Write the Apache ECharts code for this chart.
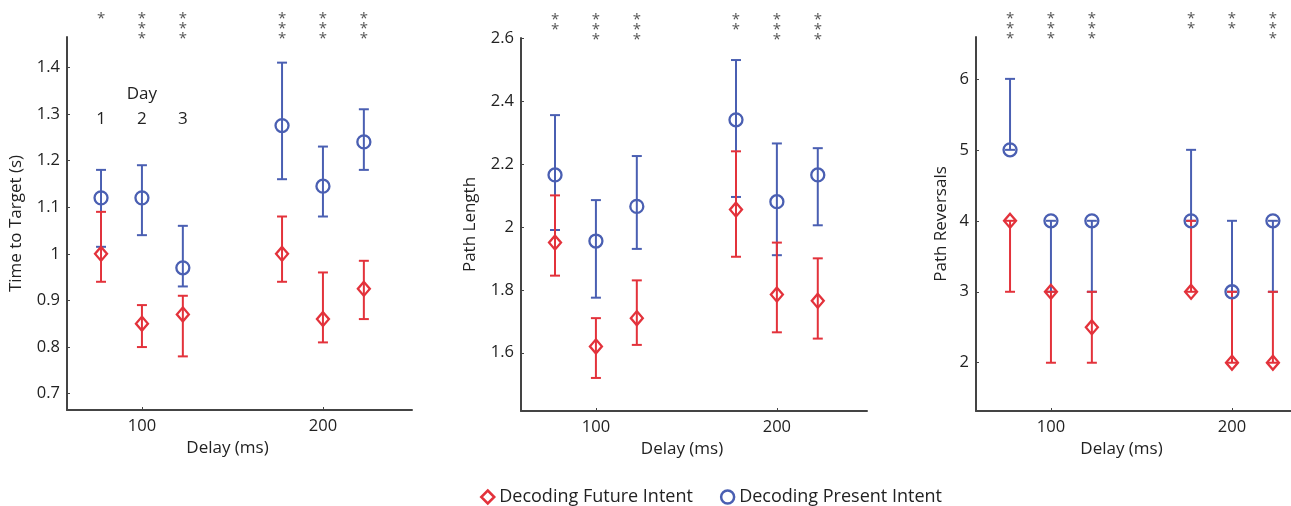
<!DOCTYPE html>
<html>
<head>
<meta charset="utf-8">
<script src="https://cdn.jsdelivr.net/npm/echarts@6/dist/echarts.min.js"></script>
<style>
  html, body { margin: 0; padding: 0; background: #fff; }
  #chart { width: 1291px; height: 506px; }
</style>
</head>
<body>
<div id="chart"></div>
<script>
// groups: delay (ms) and training day
const delays = [100, 100, 100, 200, 200, 200]
const days = [1, 2, 3, 1, 2, 3]

// Time to Target (s)
const timeFuture = [1.00, 0.85, 0.87, 1.00, 0.86, 0.925]
const timeFutureLow = [0.94, 0.80, 0.78, 0.94, 0.81, 0.86]
const timeFutureHigh = [1.09, 0.89, 0.91, 1.08, 0.96, 0.985]
const timePresent = [1.12, 1.12, 0.97, 1.275, 1.145, 1.24]
const timePresentLow = [1.015, 1.04, 0.93, 1.16, 1.08, 1.18]
const timePresentHigh = [1.18, 1.19, 1.06, 1.41, 1.23, 1.31]
const timeStars = [1, 3, 3, 3, 3, 3]
const timeTicks = [0.7, 0.8, 0.9, 1, 1.1, 1.2, 1.3, 1.4]

// Path Length
const pathFuture = [1.95, 1.62, 1.71, 2.055, 1.785, 1.765]
const pathFutureLow = [1.845, 1.52, 1.625, 1.905, 1.665, 1.645]
const pathFutureHigh = [2.10, 1.71, 1.83, 2.24, 1.95, 1.90]
const pathPresent = [2.165, 1.955, 2.065, 2.34, 2.08, 2.165]
const pathPresentLow = [1.99, 1.775, 1.93, 2.095, 1.91, 2.005]
const pathPresentHigh = [2.355, 2.085, 2.225, 2.53, 2.265, 2.25]
const pathStars = [2, 3, 3, 2, 3, 3]
const pathTicks = [1.6, 1.8, 2, 2.2, 2.4, 2.6]

// Path Reversals
const revFuture = [4, 3, 2.5, 3, 2, 2]
const revFutureLow = [3, 2, 2, 3, 2, 2]
const revFutureHigh = [4, 3, 3, 4, 3, 3]
const revPresent = [5, 4, 4, 4, 3, 4]
const revPresentLow = [5, 3, 3, 4, 3, 3]
const revPresentHigh = [6, 4, 4, 5, 4, 4]
const revStars = [3, 3, 3, 2, 2, 3]
const revTicks = [2, 3, 4, 5, 6]

const delayTicks = [100, 200]

const RED = '#e3323b'
const BLUE = '#4a5fb2'
const FONT = 'Open Sans'
const DODGE = 22.6
const FUTURE = 'Decoding Future Intent'
const PRESENT = 'Decoding Present Intent'

const xPos = i => delays[i] + (days[i] - 2) * DODGE

function errSeries(idx, low, high, color) {
    return {
        type: 'custom',
        xAxisIndex: idx,
        yAxisIndex: idx,
        name: color === RED ? FUTURE : PRESENT,
        data: low.map((v, i) => [xPos(i), v, high[i]]),
        renderItem: (params, api) => {
            const x = api.value(0)
            const p1 = api.coord([x, api.value(1)])
            const p2 = api.coord([x, api.value(2)])
            const style = { stroke: color, lineWidth: 2 }
            return {
                type: 'group',
                children: [
                    { type: 'line', shape: { x1: p1[0], y1: p1[1], x2: p2[0], y2: p2[1] }, style },
                    { type: 'line', shape: { x1: p1[0] - 5, y1: p1[1], x2: p1[0] + 5, y2: p1[1] }, style },
                    { type: 'line', shape: { x1: p2[0] - 5, y1: p2[1], x2: p2[0] + 5, y2: p2[1] }, style }
                ]
            }
        }
    }
}

function markSeries(idx, values, color) {
    const future = color === RED
    return {
        type: 'scatter',
        xAxisIndex: idx,
        yAxisIndex: idx,
        name: future ? FUTURE : PRESENT,
        symbol: future ? 'diamond' : 'circle',
        symbolSize: future ? [12, 14] : 13,
        itemStyle: { color: 'rgba(255,255,255,0)', borderColor: color, borderWidth: 2.3, opacity: 1 },
        data: values.map((v, i) => [xPos(i), v])
    }
}

function starSeries(idx, stars) {
    return {
        type: 'custom',
        xAxisIndex: idx,
        yAxisIndex: idx,
        silent: true,
        data: stars.map((n, i) => [xPos(i), n]),
        renderItem: (params, api) => {
            const p = api.coord([api.value(0), 0])
            return {
                type: 'text',
                x: p[0],
                y: params.coordSys.y - 23,
                style: {
                    text: new Array(api.value(1)).fill('*').join('\n'),
                    fill: '#555',
                    font: '15px ' + FONT,
                    lineHeight: 10,
                    align: 'center',
                    verticalAlign: 'top'
                }
            }
        }
    }
}

// "Day 1 2 3" annotation in the first panel
const dayLabels = [
    [100, 1.342, 'Day'],
    [xPos(0), 1.289, '1'],
    [xPos(1), 1.289, '2'],
    [xPos(2), 1.289, '3']
]

function yAxis(idx, name, min, max, ticks, gap) {
    return {
        type: 'value',
        gridIndex: idx,
        min, max,
        name,
        nameLocation: 'middle',
        nameGap: gap,
        nameTextStyle: { fontFamily: FONT, fontSize: 17, color: '#222' },
        axisLine: { show: true, lineStyle: { color: '#444', width: 2 } },
        axisTick: { show: true, inside: true, length: 3, customValues: ticks, lineStyle: { color: '#444' } },
        axisLabel: { customValues: ticks, margin: 7, fontFamily: FONT, fontSize: 16.5, color: '#222' },
        splitLine: { show: false }
    }
}

function xAxis(idx, max) {
    return {
        type: 'value',
        gridIndex: idx,
        min: 58.6,
        max,
        name: 'Delay (ms)',
        nameLocation: 'middle',
        nameGap: 27,
        nameTextStyle: { fontFamily: FONT, fontSize: 17, color: '#222', padding: [0, 24, 0, 0] },
        axisLine: { show: true, lineStyle: { color: '#444', width: 2 } },
        axisTick: { show: true, inside: true, length: 3, customValues: delayTicks, lineStyle: { color: '#444' } },
        axisLabel: { customValues: delayTicks, margin: 8, fontFamily: FONT, fontSize: 16.5, color: '#222' },
        splitLine: { show: false }
    }
}

const chart = echarts.init(document.getElementById('chart'))
chart.setOption({
    animation: false,
    backgroundColor: '#fff',
    grid: [
        { left: 67, top: 37, width: 345, height: 373 },
        { left: 521, top: 38, width: 346, height: 373 },
        { left: 976, top: 37, width: 315, height: 374 }
    ],
    xAxis: [xAxis(0, 249.2), xAxis(1, 249.8), xAxis(2, 232.6)],
    yAxis: [
        yAxis(0, 'Time to Target (s)', 0.665, 1.465, timeTicks, 42),
        yAxis(1, 'Path Length', 1.415, 2.6, pathTicks, 42),
        yAxis(2, 'Path Reversals', 1.32, 6.59, revTicks, 26)
    ],
    legend: {
        left: 475,
        top: 483,
        itemWidth: 13,
        itemHeight: 13,
        itemGap: 27,
        textStyle: { fontFamily: FONT, fontSize: 18, color: '#222' },
        data: [
            { name: FUTURE, icon: 'diamond', itemStyle: { color: 'rgba(255,255,255,0)', borderColor: RED, borderWidth: 2.5 } },
            { name: PRESENT, icon: 'circle', itemStyle: { color: 'rgba(255,255,255,0)', borderColor: BLUE, borderWidth: 2.5 } }
        ]
    },
    series: [
        errSeries(0, timePresentLow, timePresentHigh, BLUE),
        markSeries(0, timePresent, BLUE),
        errSeries(0, timeFutureLow, timeFutureHigh, RED),
        markSeries(0, timeFuture, RED),
        starSeries(0, timeStars),
        {
            type: 'custom',
            xAxisIndex: 0,
            yAxisIndex: 0,
            silent: true,
            data: dayLabels,
            renderItem: (params, api) => {
                const p = api.coord([api.value(0), api.value(1)])
                return {
                    type: 'text', x: p[0], y: p[1],
                    style: { text: dayLabels[params.dataIndex][2], fill: '#222', font: '17px ' + FONT, align: 'center', verticalAlign: 'middle' }
                }
            }
        },

        errSeries(1, pathPresentLow, pathPresentHigh, BLUE),
        markSeries(1, pathPresent, BLUE),
        errSeries(1, pathFutureLow, pathFutureHigh, RED),
        markSeries(1, pathFuture, RED),
        starSeries(1, pathStars),

        errSeries(2, revPresentLow, revPresentHigh, BLUE),
        markSeries(2, revPresent, BLUE),
        errSeries(2, revFutureLow, revFutureHigh, RED),
        markSeries(2, revFuture, RED),
        starSeries(2, revStars)
    ]
})
</script>
</body>
</html>
